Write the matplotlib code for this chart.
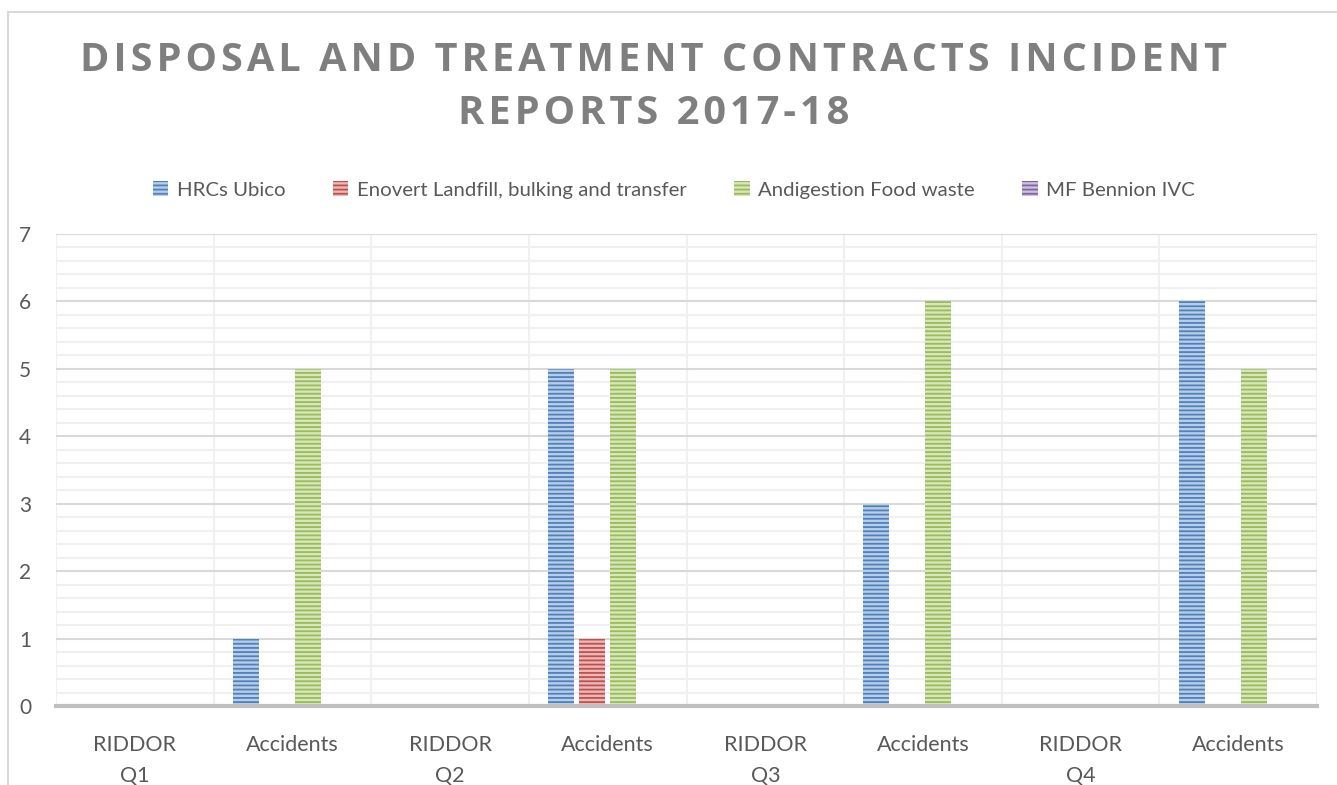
import numpy as np
import matplotlib.pyplot as plt
from matplotlib.patches import Rectangle

categories = ["RIDDOR\nQ1", "Accidents", "RIDDOR\nQ2", "Accidents",
              "RIDDOR\nQ3", "Accidents", "RIDDOR\nQ4", "Accidents"]
series_names = ["HRCs Ubico", "Enovert Landfill, bulking and transfer",
                "Andigestion Food waste", "MF Bennion IVC"]
hrcs_ubico = [0, 1, 0, 5, 0, 3, 0, 6]
enovert = [0, 0, 0, 1, 0, 0, 0, 0]
andigestion = [0, 5, 0, 5, 0, 6, 0, 5]
mf_bennion = [0, 0, 0, 0, 0, 0, 0, 0]
title_lines = ["DISPOSAL AND TREATMENT CONTRACTS INCIDENT", "REPORTS 2017-18"]

# (light fill, dark stripe)
colors = [("#b9cde6", "#4f81bd"), ("#e9b9b8", "#c0504d"),
          ("#d7e6bd", "#9bbb59"), ("#cdc1dd", "#8064a2")]

plt.rcParams['font.family'] = ['Lato', 'DejaVu Sans']
plt.rcParams['hatch.linewidth'] = 1.3

fig = plt.figure(figsize=(13.37, 7.85), dpi=100)
ax = fig.add_axes([56 / 1337, 1 - 706 / 785, (1317 - 56) / 1337, (706 - 234) / 785])

x = np.arange(len(categories))
step = 0.197
width = 0.165
all_series = [hrcs_ubico, enovert, andigestion, mf_bennion]
for i, (vals, name, (light, dark)) in enumerate(zip(all_series, series_names, colors)):
    ax.bar(x + (i - 1.5) * step, vals, width, facecolor=light, edgecolor=dark,
           hatch='----', linewidth=0, label=name, zorder=3)

ax.set_xlim(-0.5, 7.5)
ax.set_ylim(0, 7)
ax.set_yticks(range(0, 8))
ax.set_yticks(np.arange(0, 7.01, 0.2), minor=True)
ax.set_xticks(x)
ax.set_xticklabels(categories, fontsize=15.5, color="#595959", linespacing=1.7)
ax.tick_params(axis='x', length=0, pad=21)
ax.tick_params(axis='y', length=0, pad=18, labelsize=15, labelcolor="#595959")
ax.tick_params(axis='y', which='minor', length=0)

ax.grid(axis='y', which='minor', color="#f0f0f0", linewidth=1.5, zorder=0)
ax.grid(axis='y', which='major', color="#d9d9d9", linewidth=1.5, zorder=1)
for b in np.arange(-0.5, 8, 1):
    ax.axvline(b, color="#f0f0f0", linewidth=1.5, zorder=0)
for s in ['top', 'right', 'left']:
    ax.spines[s].set_visible(False)
ax.spines['bottom'].set_color("#bfbfbf")
ax.spines['bottom'].set_linewidth(3)
ax.spines['bottom'].set_zorder(4)

leg = fig.legend(loc='center', bbox_to_anchor=(0.504, 1 - 190 / 785), ncol=4,
                 frameon=False, fontsize=14.7, handlelength=0.75, handleheight=0.75,
                 handletextpad=0.4, columnspacing=2.35)
for t in leg.get_texts():
    t.set_color("#595959")

# title with wide letter spacing
spaced = "\n".join("\u200a".join(line) for line in title_lines)
fig.text(0.489, 1 - 87 / 785, spaced, ha='center', va='center', fontsize=28.6,
         fontweight='bold', color="#7f7f7f", family=['Open Sans', 'DejaVu Sans'],
         linespacing=1.45)

fig.patches.append(Rectangle((8 / 1337, -0.1), 1.2, 1.1 - 12 / 785, transform=fig.transFigure,
                             facecolor='none', edgecolor="#d9d9d9", linewidth=1.5))

fig.savefig("out.png", dpi=100)
